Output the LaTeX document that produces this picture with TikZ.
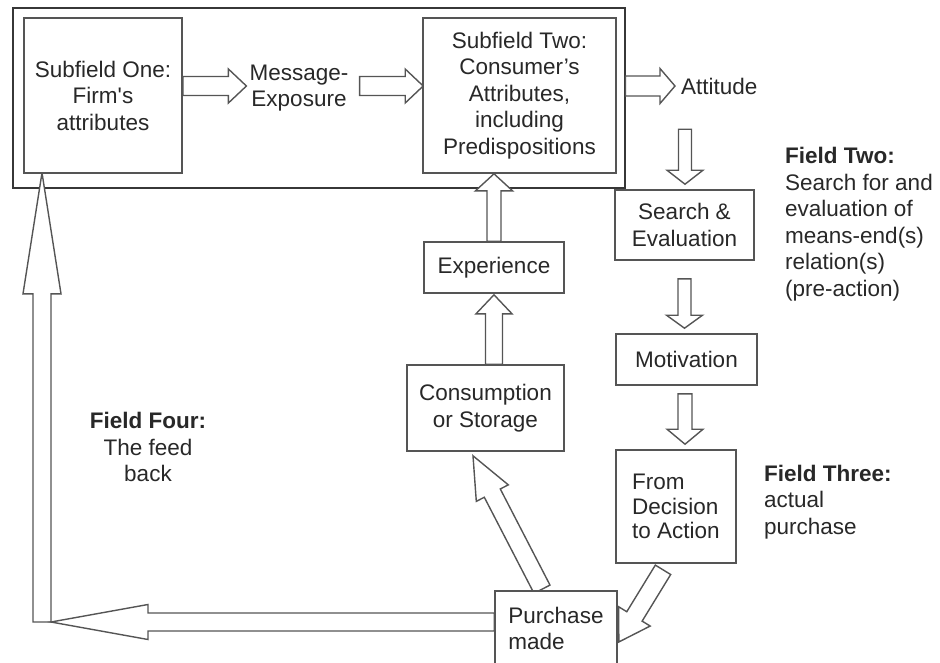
\documentclass[tikz,border=0pt]{standalone}
\usepackage{fontspec}
\setmainfont{Liberation Sans}
\usetikzlibrary{calc}
\definecolor{linegray}{RGB}{85,85,85}
\definecolor{framegray}{RGB}{55,55,55}
\definecolor{textgray}{RGB}{40,40,40}

\pgfdeclarelayer{framelayer}
\pgfdeclarelayer{arrowlayer}
\pgfsetlayers{framelayer,arrowlayer,main}

% hollow block arrow: tail, tip, shaft half-width, head half-width, head length
\newcommand{\blockarrow}[5]{%
  \path ($(#2)!#5!(#1)$) coordinate (ba-h);
  \draw[blockarrow] ($(#1)!#3!90:(#2)$) -- ($(ba-h)!#3!90:(#2)$)
    -- ($(ba-h)!#4!90:(#2)$) -- (#2) -- ($(ba-h)!#4!-90:(#2)$)
    -- ($(ba-h)!#3!-90:(#2)$) -- ($(#1)!#3!-90:(#2)$) -- cycle;
}

\begin{document}
\begin{tikzpicture}[x=1pt,y=-1pt,
  font=\fontsize{22.5}{26.5}\selectfont,
  every node/.style={text=textgray},
  box/.style={draw=linegray, line width=1.6pt, fill=white, inner sep=0pt, align=center},
  plain/.style={inner sep=1pt, align=center},
  note/.style={inner sep=0pt, align=left, anchor=west},
  blockarrow/.style={draw=linegray, line width=1.4pt, fill=white, line join=miter},
]
\useasboundingbox (0,0) rectangle (940,662);
\clip (0,0) rectangle (940,662);

% boxes and texts
\node[box] (s1) [minimum width=158, minimum height=155] at (103,95.5)
  {Subfield One:\\Firm\textquotesingle s\\attributes};
\node[plain] (me) at (299,88) {Message-\\Exposure};
\node[box] (s2) [minimum width=193, minimum height=155] at (519.5,95.5)
  {Subfield Two:\\Consumer’s\\Attributes,\\including\\Predispositions};
\node[plain, anchor=west] (att) at (680,86) {Attitude};
\node[box] (se) [minimum width=139, minimum height=70] at (684.5,225) {Search \&\\Evaluation};
\node[box] (mot) [minimum width=141, minimum height=51] at (686.5,359.5) {Motivation};
\node[box, align=left, font=\fontsize{22.5}{24.5}\selectfont] (fd)
  [minimum width=120, minimum height=113] at (676,506.5) {From\\Decision\\to Action};
\node[box, align=left] (ps) [minimum width=122, minimum height=75] at (556,628.5) {Purchase\\made};
\node[box] (cs) [minimum width=157, minimum height=86] at (485.5,408) {Consumption\\or Storage};
\node[box] (ex) [minimum width=140, minimum height=51] at (494,267.5) {Experience};

\node[note] (f2) at (785,224)
  {\textbf{Field Two:}\\Search for and\\evaluation of\\means-end(s)\\relation(s)\\(pre-action)};
\node[note] (f3) at (764,502) {\textbf{Field Three:}\\actual\\purchase};
\node[plain] (f4) at (148,447) {\textbf{Field Four:}\\The feed\\back};

% outer frame round the first field
\begin{pgfonlayer}{framelayer}
  \node[draw=framegray, line width=2pt, inner sep=0pt, minimum width=611.5, minimum height=180]
    (field1) at (318.75,98) {};
\end{pgfonlayer}

% connector end points
\coordinate (a1t) at ($(s1.east)+(0,-9.5)$);
\coordinate (a1h) at ($(me.west)+(-2,-2)$);
\coordinate (a2t) at ($(me.east)+(10,-2)$);
\coordinate (a2h) at ($(s2.west)+(1,-9.5)$);
\coordinate (a3t) at ($(field1.east)+(0,-12)$);
\coordinate (a3h) at ($(att.west)+(-5,0)$);
\coordinate (a4t) at ($(se.north)+(0.5,-60)$);
\coordinate (a4h) at ($(se.north)+(0.5,-5)$);
\coordinate (a5t) at ($(se.south)+(0,18)$);
\coordinate (a5h) at ($(mot.north)+(-2,-5)$);
\coordinate (a6t) at ($(mot.south)+(-1.5,8)$);
\coordinate (a6h) at ($(fd.north)+(9,-5)$);
\coordinate (a7t) at ($(fd.south)+(-13,6)$);
\coordinate (a7h) at ($(ps.east)+(1,13.5)$);
\coordinate (a8t) at ($(ps.north)+(-14,-1)$);
\coordinate (a8h) at ($(cs.south)+(-12.5,4)$);
\coordinate (a9t) at ($(cs.north)+(8.5,0)$);
\coordinate (a9h) at ($(ex.south)+(0,1)$);
\coordinate (a10t) at (ex.north);
\coordinate (a10h) at ($(s2.south)+(-25.5,0)$);
\coordinate (fb) at (42,622);
\coordinate (fbh) at ($(fb)+(9,0)$);
\coordinate (a11t) at ($(ps.west)+(0,-6.5)$);
\coordinate (a12h) at ($(s1.south)+(-61,-1)$);

\begin{pgfonlayer}{arrowlayer}
  \blockarrow{a1t}{a1h}{9.5pt}{17pt}{18pt}
  \blockarrow{a2t}{a2h}{9.5pt}{17pt}{18pt}
  \blockarrow{a3t}{a3h}{10pt}{17.5pt}{15pt}
  \blockarrow{a4t}{a4h}{6.5pt}{18pt}{14pt}
  \blockarrow{a5t}{a5h}{6.5pt}{18pt}{13pt}
  \blockarrow{a6t}{a6h}{7pt}{18pt}{15pt}
  \blockarrow{a7t}{a7h}{9pt}{18.4pt}{30pt}
  \blockarrow{a8t}{a8h}{9pt}{18pt}{42pt}
  \blockarrow{a9t}{a9h}{8.5pt}{18pt}{19pt}
  \blockarrow{a10t}{a10h}{7pt}{18.5pt}{17pt}
  \blockarrow{fb}{a12h}{9pt}{19pt}{121pt}
  \blockarrow{a11t}{fbh}{9pt}{17.5pt}{97pt}
\end{pgfonlayer}
\end{tikzpicture}
\end{document}
